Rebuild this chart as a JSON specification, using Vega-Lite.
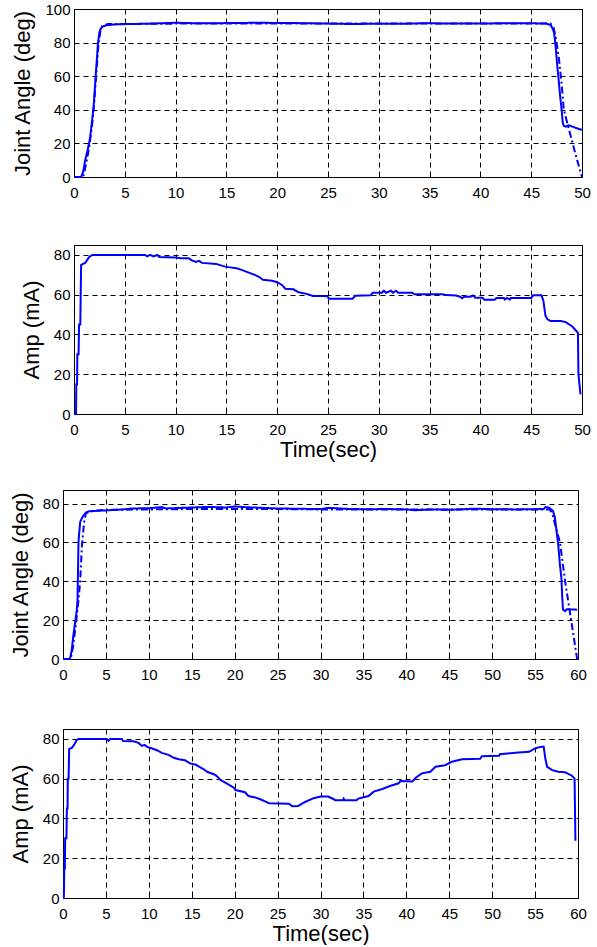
{
  "$schema": "https://vega.github.io/schema/vega-lite/v6.json",
  "padding": {"left": 7, "top": 1, "right": 0, "bottom": 0},
  "background": "white",
  "config": {
    "font": "Liberation Sans",
    "view": {"stroke": "black", "strokeWidth": 1},
    "axis": {
      "grid": true, "gridColor": "black", "gridDash": [5, 4], "gridWidth": 1, "gridOpacity": 1,
      "domain": false, "ticks": true, "tickSize": -4, "tickColor": "black", "tickWidth": 1, "labelFlush": false,
      "labelFontSize": 15, "labelColor": "black", "labelPadding": 12,
      "titleFontSize": 22, "titleFontWeight": "normal", "titleColor": "black"
    },
    "axisY": {"titlePadding": 10, "labelPadding": 8},
    "axisX": {"titlePadding": 2}
  },
  "datasets": {
    "p1": [
      {"t":0,"v":0,"s":"m"},{"t":0.7,"v":0,"s":"m"},{"t":0.9,"v":3,"s":"m"},{"t":1.1,"v":10,"s":"m"},{"t":1.3,"v":15,"s":"m"},{"t":1.48,"v":20,"s":"m"},{"t":1.6,"v":24,"s":"m"},{"t":1.75,"v":32,"s":"m"},{"t":1.9,"v":40,"s":"m"},{"t":2.0,"v":48,"s":"m"},{"t":2.13,"v":60,"s":"m"},{"t":2.25,"v":70,"s":"m"},{"t":2.36,"v":80,"s":"m"},{"t":2.5,"v":86,"s":"m"},{"t":2.6,"v":88,"s":"m"},{"t":2.8,"v":89.5,"s":"m"},{"t":3.2,"v":90.3,"s":"m"},{"t":4,"v":90.8,"s":"m"},{"t":5,"v":91,"s":"m"},{"t":7,"v":91.2,"s":"m"},{"t":10,"v":91.8,"s":"m"},{"t":12,"v":91.5,"s":"m"},{"t":15,"v":91.6,"s":"m"},{"t":18,"v":91.8,"s":"m"},{"t":20,"v":91.7,"s":"m"},{"t":22,"v":91.6,"s":"m"},{"t":25,"v":91.3,"s":"m"},{"t":27,"v":91.1,"s":"m"},{"t":30,"v":91.2,"s":"m"},{"t":33,"v":91.3,"s":"m"},{"t":35,"v":91.6,"s":"m"},{"t":36,"v":91.3,"s":"m"},{"t":40,"v":91.4,"s":"m"},{"t":43,"v":91.5,"s":"m"},{"t":45,"v":91.5,"s":"m"},{"t":46.5,"v":91.3,"s":"m"},{"t":46.9,"v":90.5,"s":"m"},{"t":47.1,"v":88.5,"s":"m"},{"t":47.25,"v":86,"s":"m"},{"t":47.4,"v":78,"s":"m"},{"t":47.57,"v":66,"s":"m"},{"t":47.7,"v":58,"s":"m"},{"t":47.85,"v":48,"s":"m"},{"t":48.0,"v":40,"s":"m"},{"t":48.1,"v":32.5,"s":"m"},{"t":48.2,"v":30.5,"s":"m"},{"t":48.4,"v":30,"s":"m"},{"t":48.7,"v":30.8,"s":"m"},{"t":49.05,"v":30,"s":"m"},{"t":49.5,"v":29,"s":"m"},{"t":50,"v":28,"s":"m"},
      {"t":0,"v":0,"s":"r"},{"t":0.9,"v":0,"s":"r"},{"t":1.2,"v":8,"s":"r"},{"t":1.5,"v":18,"s":"r"},{"t":1.8,"v":32,"s":"r"},{"t":2.0,"v":45,"s":"r"},{"t":2.2,"v":62,"s":"r"},{"t":2.4,"v":78,"s":"r"},{"t":2.6,"v":87,"s":"r"},{"t":2.8,"v":90,"s":"r"},{"t":3.3,"v":91,"s":"r"},{"t":10,"v":91.3,"s":"r"},{"t":20,"v":91.3,"s":"r"},{"t":30,"v":91.3,"s":"r"},{"t":40,"v":91.3,"s":"r"},{"t":46.9,"v":91.3,"s":"r"},{"t":47.2,"v":89,"s":"r"},{"t":47.45,"v":82,"s":"r"},{"t":47.74,"v":70,"s":"r"},{"t":48.0,"v":55,"s":"r"},{"t":48.2,"v":40.5,"s":"r"},{"t":48.6,"v":31,"s":"r"},{"t":49.05,"v":20.7,"s":"r"},{"t":49.5,"v":10.5,"s":"r"},{"t":50,"v":0,"s":"r"}
    ],
    "p2": [
      {"t":0,"v":0},{"t":0.2,"v":0},{"t":0.23,"v":15},{"t":0.3,"v":15},{"t":0.33,"v":30},{"t":0.45,"v":30},{"t":0.5,"v":45},{"t":0.62,"v":45},{"t":0.66,"v":60},{"t":0.7,"v":75},{"t":0.9,"v":75.5},{"t":1.1,"v":76},{"t":1.3,"v":77.5},{"t":1.5,"v":79},{"t":1.8,"v":80},{"t":7,"v":80},{"t":7.2,"v":79.3},{"t":7.5,"v":80},{"t":7.8,"v":79.3},{"t":8.2,"v":80},{"t":8.4,"v":79},{"t":10,"v":78.7},{"t":10.5,"v":78.3},{"t":11.3,"v":78.3},{"t":11.6,"v":77.3},{"t":12.0,"v":76.5},{"t":12.3,"v":77},{"t":12.6,"v":76},{"t":14,"v":75.5},{"t":14.6,"v":74.5},{"t":15,"v":74},{"t":16,"v":73.3},{"t":16.5,"v":72.5},{"t":17,"v":71.5},{"t":17.8,"v":70},{"t":18.2,"v":69},{"t":18.6,"v":67.5},{"t":19.5,"v":67},{"t":20,"v":66.3},{"t":20.5,"v":64.8},{"t":20.8,"v":63},{"t":21.6,"v":62.7},{"t":22.1,"v":61.2},{"t":23,"v":60.3},{"t":23.5,"v":59.4},{"t":24.9,"v":59.4},{"t":25.1,"v":58},{"t":27.4,"v":58},{"t":27.7,"v":59.5},{"t":29.2,"v":59.7},{"t":29.4,"v":61},{"t":30.3,"v":61},{"t":30.5,"v":62},{"t":30.7,"v":61},{"t":31.2,"v":62},{"t":31.4,"v":61},{"t":31.7,"v":62},{"t":31.9,"v":61},{"t":33.3,"v":61},{"t":33.5,"v":60.2},{"t":36.3,"v":60.2},{"t":36.6,"v":59.8},{"t":37.6,"v":59.6},{"t":38.0,"v":59},{"t":38.2,"v":58.2},{"t":38.4,"v":59},{"t":39,"v":59},{"t":39.3,"v":59.6},{"t":39.5,"v":58.5},{"t":40.2,"v":58.5},{"t":40.4,"v":57.5},{"t":41.4,"v":57.5},{"t":41.6,"v":58.4},{"t":42.3,"v":58.4},{"t":42.4,"v":57.6},{"t":42.6,"v":58.4},{"t":42.9,"v":57.6},{"t":43,"v":58.4},{"t":45,"v":58.4},{"t":45.2,"v":59.7},{"t":46.0,"v":59.7},{"t":46.2,"v":57},{"t":46.4,"v":49.5},{"t":46.6,"v":47.6},{"t":46.9,"v":46.8},{"t":47.9,"v":46.8},{"t":48.4,"v":46.2},{"t":49.05,"v":44},{"t":49.4,"v":42},{"t":49.6,"v":40.8},{"t":49.65,"v":20},{"t":49.85,"v":9.9}
    ],
    "p3": [
      {"t":0,"v":0,"s":"m"},{"t":0.8,"v":0,"s":"m"},{"t":1.0,"v":4,"s":"m"},{"t":1.2,"v":12,"s":"m"},{"t":1.42,"v":19,"s":"m"},{"t":1.6,"v":25,"s":"m"},{"t":1.69,"v":30,"s":"m"},{"t":1.75,"v":45,"s":"m"},{"t":1.8,"v":60,"s":"m"},{"t":2.0,"v":70.5,"s":"m"},{"t":2.2,"v":72.5,"s":"m"},{"t":2.4,"v":74,"s":"m"},{"t":2.7,"v":75.5,"s":"m"},{"t":3.0,"v":76,"s":"m"},{"t":4,"v":76.3,"s":"m"},{"t":5,"v":76.5,"s":"m"},{"t":7,"v":77,"s":"m"},{"t":8,"v":77.5,"s":"m"},{"t":10,"v":77.6,"s":"m"},{"t":11.5,"v":78.2,"s":"m"},{"t":12,"v":77.5,"s":"m"},{"t":15,"v":78,"s":"m"},{"t":17,"v":78.3,"s":"m"},{"t":19,"v":78,"s":"m"},{"t":20,"v":78.5,"s":"m"},{"t":22,"v":78,"s":"m"},{"t":25,"v":77.5,"s":"m"},{"t":28,"v":77.3,"s":"m"},{"t":30,"v":77.2,"s":"m"},{"t":31,"v":77.8,"s":"m"},{"t":33,"v":77.3,"s":"m"},{"t":35,"v":77.1,"s":"m"},{"t":38,"v":77.2,"s":"m"},{"t":40,"v":77,"s":"m"},{"t":41,"v":76.6,"s":"m"},{"t":43,"v":77,"s":"m"},{"t":45,"v":76.8,"s":"m"},{"t":48,"v":77.4,"s":"m"},{"t":50,"v":77.1,"s":"m"},{"t":53,"v":77,"s":"m"},{"t":56.0,"v":77.2,"s":"m"},{"t":56.2,"v":78.2,"s":"m"},{"t":56.6,"v":78,"s":"m"},{"t":56.9,"v":77,"s":"m"},{"t":57.1,"v":76,"s":"m"},{"t":57.3,"v":73,"s":"m"},{"t":57.5,"v":66,"s":"m"},{"t":57.7,"v":58.6,"s":"m"},{"t":57.9,"v":48.4,"s":"m"},{"t":58.07,"v":41.5,"s":"m"},{"t":58.15,"v":33,"s":"m"},{"t":58.25,"v":25.5,"s":"m"},{"t":58.5,"v":24.6,"s":"m"},{"t":58.7,"v":25.6,"s":"m"},{"t":59.3,"v":25.5,"s":"m"},{"t":59.9,"v":25.4,"s":"m"},
      {"t":0,"v":0,"s":"r"},{"t":0.9,"v":0,"s":"r"},{"t":1.2,"v":7,"s":"r"},{"t":1.5,"v":18,"s":"r"},{"t":1.8,"v":30,"s":"r"},{"t":2.0,"v":40,"s":"r"},{"t":2.2,"v":58,"s":"r"},{"t":2.45,"v":70,"s":"r"},{"t":2.66,"v":75,"s":"r"},{"t":3.2,"v":76,"s":"r"},{"t":5,"v":76.8,"s":"r"},{"t":10,"v":77,"s":"r"},{"t":15,"v":77.2,"s":"r"},{"t":20,"v":77.2,"s":"r"},{"t":25,"v":77.2,"s":"r"},{"t":30,"v":77,"s":"r"},{"t":40,"v":77,"s":"r"},{"t":50,"v":77,"s":"r"},{"t":56.7,"v":77,"s":"r"},{"t":57.0,"v":75,"s":"r"},{"t":57.4,"v":68,"s":"r"},{"t":57.9,"v":60,"s":"r"},{"t":58.5,"v":40,"s":"r"},{"t":59.2,"v":20,"s":"r"},{"t":59.9,"v":0,"s":"r"}
    ],
    "p4": [
      {"t":0,"v":0},{"t":0.1,"v":0},{"t":0.15,"v":15},{"t":0.22,"v":15},{"t":0.25,"v":30},{"t":0.4,"v":30},{"t":0.45,"v":45},{"t":0.53,"v":45},{"t":0.56,"v":60},{"t":0.65,"v":60},{"t":0.72,"v":75},{"t":1.03,"v":75.5},{"t":1.2,"v":76.5},{"t":1.42,"v":78},{"t":1.6,"v":79.5},{"t":1.8,"v":80},{"t":5.1,"v":80},{"t":5.3,"v":79},{"t":5.5,"v":80},{"t":6.85,"v":80},{"t":7.0,"v":79},{"t":8.2,"v":78.8},{"t":8.8,"v":78},{"t":9.2,"v":76.5},{"t":9.5,"v":77},{"t":9.8,"v":76},{"t":10.4,"v":75.2},{"t":11,"v":74.2},{"t":11.5,"v":73},{"t":12.3,"v":72},{"t":12.9,"v":70.5},{"t":13.5,"v":69.8},{"t":14.2,"v":69.3},{"t":14.8,"v":67.7},{"t":15.5,"v":67},{"t":15.8,"v":66.2},{"t":16.3,"v":65},{"t":16.8,"v":63.5},{"t":17.7,"v":62},{"t":18.0,"v":61},{"t":18.3,"v":59.5},{"t":18.8,"v":58.3},{"t":19.3,"v":57},{"t":19.9,"v":55.5},{"t":20.1,"v":54.3},{"t":21.2,"v":53.2},{"t":21.6,"v":51.3},{"t":22.4,"v":50.6},{"t":23.2,"v":49.3},{"t":23.6,"v":48.5},{"t":24,"v":47.7},{"t":26.3,"v":47.4},{"t":26.7,"v":46.2},{"t":27.4,"v":46.3},{"t":28.2,"v":48.3},{"t":29.2,"v":50.2},{"t":30,"v":51},{"t":30.9,"v":51},{"t":31.5,"v":49.8},{"t":31.7,"v":49.2},{"t":32.6,"v":49.2},{"t":32.7,"v":50},{"t":32.8,"v":49.2},{"t":34.2,"v":49.2},{"t":34.4,"v":50},{"t":35.6,"v":51.3},{"t":36.2,"v":53.5},{"t":37.2,"v":54.8},{"t":38.1,"v":56.3},{"t":39.1,"v":57.7},{"t":39.3,"v":58.8},{"t":40.7,"v":58.6},{"t":41.1,"v":60.5},{"t":41.8,"v":62.7},{"t":42.8,"v":63.5},{"t":43.4,"v":66},{"t":44.5,"v":66.8},{"t":45.3,"v":68.5},{"t":46.5,"v":69.8},{"t":48.6,"v":70},{"t":48.8,"v":71.3},{"t":50.8,"v":71.5},{"t":50.9,"v":72.3},{"t":52.7,"v":73},{"t":54.3,"v":73.5},{"t":55,"v":75.2},{"t":55.6,"v":76},{"t":56.0,"v":76.2},{"t":56.2,"v":70},{"t":56.4,"v":66},{"t":57,"v":64.3},{"t":57.7,"v":63.5},{"t":58.5,"v":63.2},{"t":59.3,"v":61.5},{"t":59.6,"v":60},{"t":59.7,"v":28.8}
    ]
  },
  "vconcat": [
    {
      "hconcat": [
        {"width": 4, "height": 1, "view": {"stroke": null}, "data": {"values": []}, "mark": "point"},
        {
          "vconcat": [
            {
              "width": 508, "height": 168,
              "data": {"name": "p1"},
              "mark": {"type": "line", "strokeWidth": 2, "color": "#0000ff"},
              "encoding": {
                "x": {"field": "t", "type": "quantitative", "scale": {"domain": [0, 50], "nice": false}, "axis": {"values": [0,5,10,15,20,25,30,35,40,45,50], "title": null}},
                "y": {"field": "v", "type": "quantitative", "scale": {"domain": [0, 100], "nice": false}, "axis": {"values": [0,20,40,60,80,100], "title": "Joint Angle (deg)"}},
                "strokeDash": {"field": "s", "type": "nominal", "scale": {"domain": ["m","r"], "range": [[1,0],[7,3,2,3]]}, "legend": null}
              }
            },
            {
              "width": 508, "height": 169,
              "data": {"name": "p2"},
              "mark": {"type": "line", "strokeWidth": 2, "color": "#0000ff"},
              "encoding": {
                "x": {"field": "t", "type": "quantitative", "scale": {"domain": [0, 50], "nice": false}, "axis": {"values": [0,5,10,15,20,25,30,35,40,45,50], "title": "Time(sec)"}},
                "y": {"field": "v", "type": "quantitative", "scale": {"domain": [0, 85], "nice": false}, "axis": {"values": [0,20,40,60,80], "title": "Amp (mA)"}}
              }
            }
          ],
          "spacing": 43
        }
      ],
      "spacing": 0
    },
    {
      "hconcat": [
        {"width": 1, "height": 1, "view": {"stroke": null}, "data": {"values": []}, "mark": "point"},
        {
          "vconcat": [
            {
              "width": 515, "height": 169,
              "data": {"name": "p3"},
              "mark": {"type": "line", "strokeWidth": 2, "color": "#0000ff"},
              "encoding": {
                "x": {"field": "t", "type": "quantitative", "scale": {"domain": [0, 60], "nice": false}, "axis": {"values": [0,5,10,15,20,25,30,35,40,45,50,55,60], "title": null}},
                "y": {"field": "v", "type": "quantitative", "scale": {"domain": [0, 87], "nice": false}, "axis": {"values": [0,20,40,60,80], "title": "Joint Angle (deg)"}},
                "strokeDash": {"field": "s", "type": "nominal", "scale": {"domain": ["m","r"], "range": [[1,0],[7,3,2,3]]}, "legend": null}
              }
            },
            {
              "width": 515, "height": 169,
              "data": {"name": "p4"},
              "mark": {"type": "line", "strokeWidth": 2, "color": "#0000ff"},
              "encoding": {
                "x": {"field": "t", "type": "quantitative", "scale": {"domain": [0, 60], "nice": false}, "axis": {"values": [0,5,10,15,20,25,30,35,40,45,50,55,60], "title": "Time(sec)"}},
                "y": {"field": "v", "type": "quantitative", "scale": {"domain": [0, 85], "nice": false}, "axis": {"values": [0,20,40,60,80], "title": "Amp (mA)"}}
              }
            }
          ],
          "spacing": 45
        }
      ],
      "spacing": 0
    }
  ],
  "spacing": 28,
  "resolve": {"scale": {"x": "independent", "y": "independent"}}
}
